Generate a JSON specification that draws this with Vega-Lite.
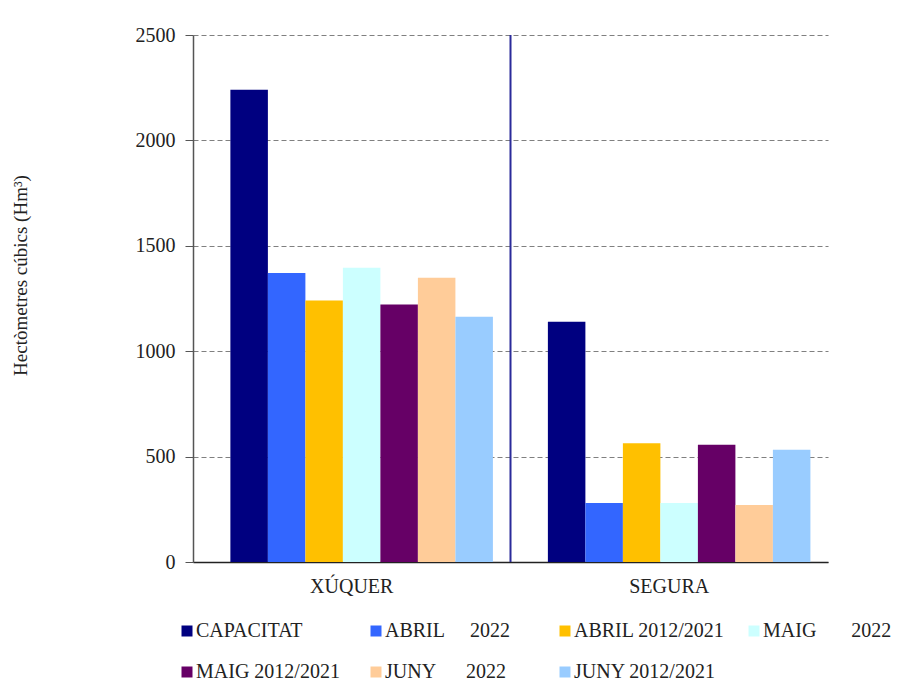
{
  "$schema": "https://vega.github.io/schema/vega-lite/v6.json",
  "autosize": {"type": "none"},
  "width": 635,
  "height": 527,
  "padding": {"left": 193, "top": 35, "right": 71, "bottom": 120},
  "config": {
    "view": {"stroke": null},
    "font": "Liberation Serif",
    "text": {"font": "Liberation Serif"},
    "axis": {"labelFont": "Liberation Serif", "titleFont": "Liberation Serif", "labelColor": "#222", "titleColor": "#222"},
    "legend": {"labelFont": "Liberation Serif", "titleFont": "Liberation Serif"}
  },
  "layer": [
    {
      "data": {
        "values": [
          {"region": "XÚQUER", "series": "CAPACITAT", "value": 2240},
          {"region": "XÚQUER", "series": "ABRIL\u00a0\u00a0\u00a0\u00a0\u00a02022", "value": 1371},
          {"region": "XÚQUER", "series": "ABRIL 2012/2021", "value": 1241},
          {"region": "XÚQUER", "series": "MAIG\u00a0\u00a0\u00a0\u00a0\u00a0\u00a0\u00a02022", "value": 1396},
          {"region": "XÚQUER", "series": "MAIG 2012/2021", "value": 1222},
          {"region": "XÚQUER", "series": "JUNY\u00a0\u00a0\u00a0\u00a0\u00a0\u00a02022", "value": 1349},
          {"region": "XÚQUER", "series": "JUNY 2012/2021", "value": 1164},
          {"region": "SEGURA", "series": "CAPACITAT", "value": 1140},
          {"region": "SEGURA", "series": "ABRIL\u00a0\u00a0\u00a0\u00a0\u00a02022", "value": 280},
          {"region": "SEGURA", "series": "ABRIL 2012/2021", "value": 563},
          {"region": "SEGURA", "series": "MAIG\u00a0\u00a0\u00a0\u00a0\u00a0\u00a0\u00a02022", "value": 280},
          {"region": "SEGURA", "series": "MAIG 2012/2021", "value": 556},
          {"region": "SEGURA", "series": "JUNY\u00a0\u00a0\u00a0\u00a0\u00a0\u00a02022", "value": 270},
          {"region": "SEGURA", "series": "JUNY 2012/2021", "value": 533}
        ]
      },
      "mark": {"type": "bar"},
      "encoding": {
        "x": {
          "field": "region", "type": "nominal",
          "scale": {"domain": ["XÚQUER", "SEGURA"], "paddingInner": 0, "paddingOuter": 0},
          "axis": {"title": null, "labelAngle": 0, "labelFontSize": 20, "labelFont": "Liberation Serif", "labelPadding": 14, "ticks": false, "domainColor": "#222", "domainWidth": 1.5, "grid": false}
        },
        "xOffset": {
          "field": "series", "type": "nominal",
          "scale": {"domain": ["CAPACITAT", "ABRIL\u00a0\u00a0\u00a0\u00a0\u00a02022", "ABRIL 2012/2021", "MAIG\u00a0\u00a0\u00a0\u00a0\u00a0\u00a0\u00a02022", "MAIG 2012/2021", "JUNY\u00a0\u00a0\u00a0\u00a0\u00a0\u00a02022", "JUNY 2012/2021"], "paddingInner": 0, "paddingOuter": 0.733, "align": 0.68}
        },
        "y": {
          "field": "value", "type": "quantitative",
          "scale": {"domain": [0, 2500], "nice": false},
          "axis": {
            "title": "Hectòmetres cúbics (Hm³)", "titleFontSize": 19, "titleFontWeight": "normal", "titleFont": "Liberation Serif",
            "titleAngle": 270, "titleAlign": "center", "titleBaseline": "middle", "titleX": -173, "titleY": 240,
            "values": [0, 500, 1000, 1500, 2000, 2500], "format": "d",
            "labelFontSize": 20, "labelFont": "Liberation Serif", "labelPadding": 10, "tickSize": 8, "tickColor": "#555", "domainColor": "#555", "domainWidth": 1.5,
            "grid": true, "gridDash": [5, 3], "gridColor": "#808080", "gridWidth": 1.2
          }
        },
        "color": {
          "field": "series", "type": "nominal",
          "scale": {
            "domain": ["CAPACITAT", "ABRIL\u00a0\u00a0\u00a0\u00a0\u00a02022", "ABRIL 2012/2021", "MAIG\u00a0\u00a0\u00a0\u00a0\u00a0\u00a0\u00a02022", "MAIG 2012/2021", "JUNY\u00a0\u00a0\u00a0\u00a0\u00a0\u00a02022", "JUNY 2012/2021"],
            "range": ["#000080", "#3366FF", "#FFC000", "#CCFFFF", "#660066", "#FFCC99", "#99CCFF"]
          },
          "legend": {
            "title": null, "orient": "none", "legendX": -16, "legendY": 586,
            "direction": "horizontal", "columns": 4, "gridAlign": "all",
            "columnPadding": 19, "rowPadding": 21, "padding": 0,
            "symbolType": "square", "symbolSize": 121, "symbolStrokeWidth": 0, "symbolOpacity": 1,
            "labelFont": "Liberation Serif", "labelFontSize": 20, "labelColor": "#222", "labelOffset": -1, "labelLimit": 0
          }
        }
      }
    },
    {
      "data": {"values": [{"region": "SEGURA"}]},
      "mark": {"type": "rule", "color": "#2B2B9A", "strokeWidth": 2},
      "encoding": {
        "x": {"field": "region", "type": "nominal", "bandPosition": 0}
      }
    }
  ]
}
